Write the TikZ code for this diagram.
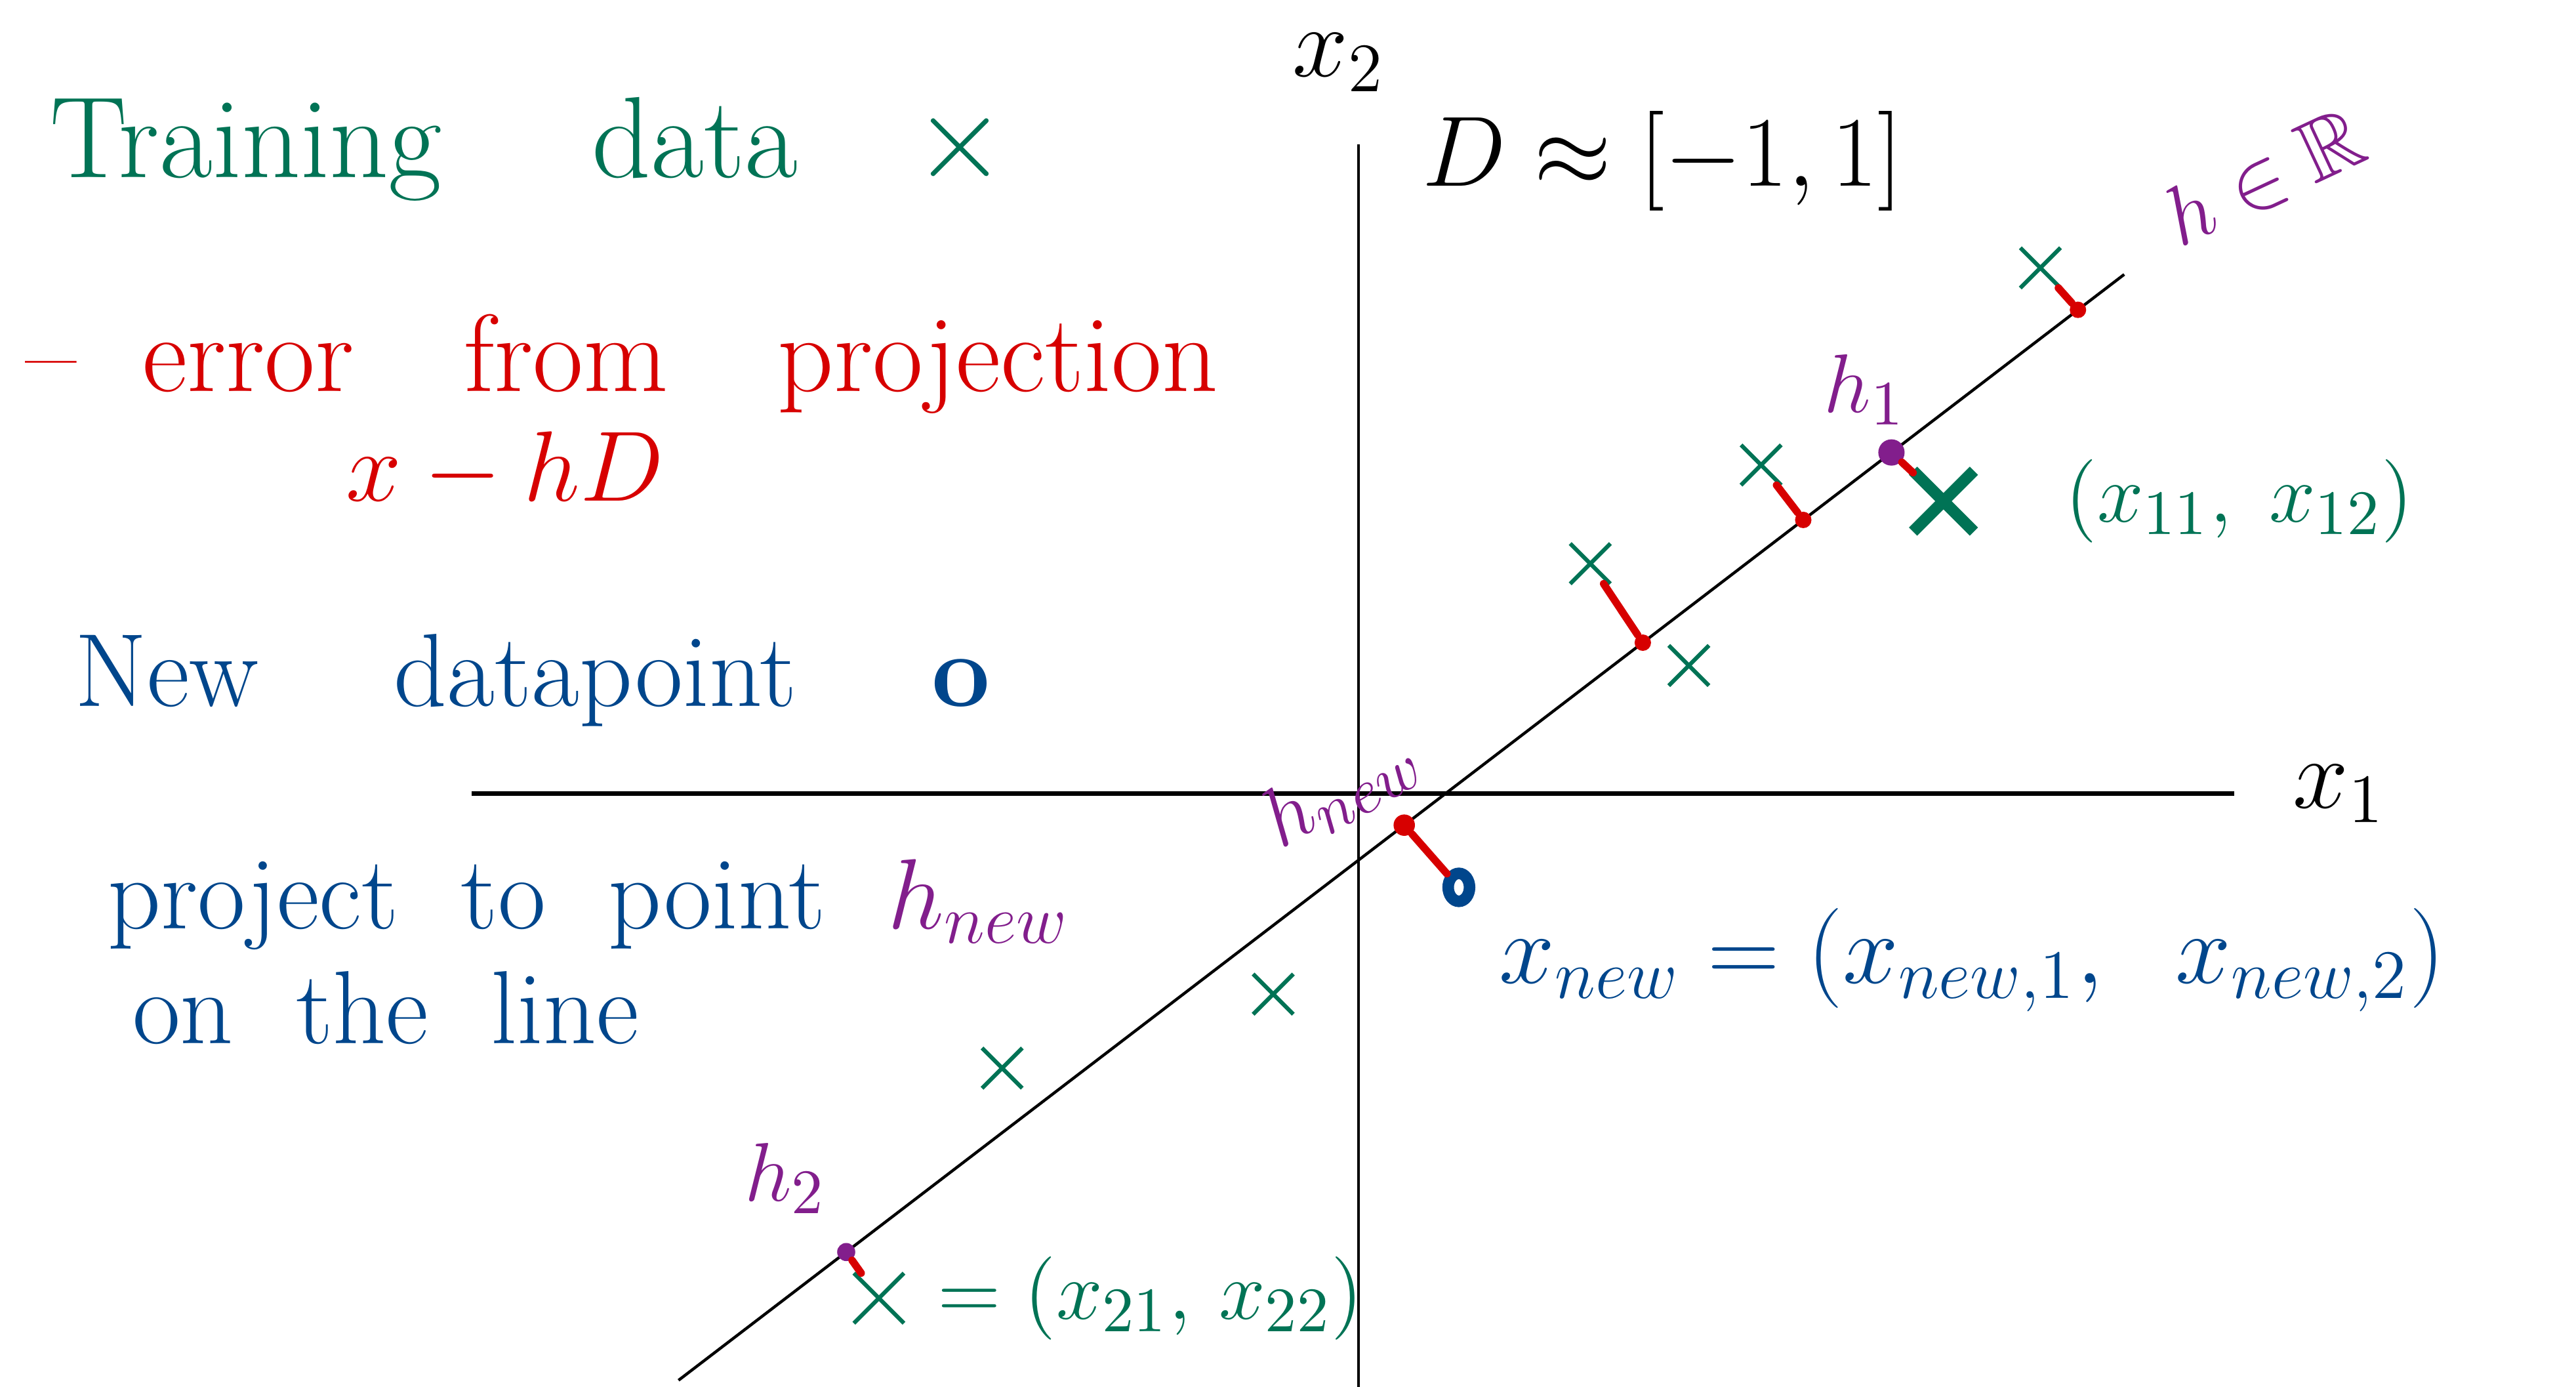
\documentclass[tikz,border=0pt]{standalone}
\usepackage{fontspec}
\usepackage{amsmath, amssymb}
\usetikzlibrary{shapes.geometric, shapes.misc, positioning, calc}
\definecolor{datagreen}{RGB}{0, 115, 85}
\definecolor{errred}{RGB}{215, 0, 0}
\definecolor{newblue}{RGB}{0, 70, 140}
\definecolor{hpurple}{RGB}{130, 30, 140}

\begin{document}
\begin{tikzpicture}[x=0.01cm, y=-0.01cm,
  txt/.style={font=\fontsize{18}{22}\selectfont, inner sep=0pt},
  small/.style={font=\fontsize{15}{18}\selectfont, inner sep=0pt},
  cross/.style={cross out, draw=datagreen, line width=0.7pt, minimum size=0.22cm, inner sep=0pt},
  errdot/.style={circle, fill=errred, inner sep=0pt, minimum size=0.1cm},
  hdot/.style={circle, fill=hpurple, inner sep=0pt, minimum size=0.16cm},
  newpt/.style={ellipse, draw=newblue, line width=2pt, inner sep=0pt, minimum width=0.13cm, minimum height=0.17cm},
  errseg/.style={errred, line width=1.3pt, line cap=round}]

  \useasboundingbox (0,0) rectangle (1568,844);

  % axes and the line
  \coordinate (xl) at (287,483);
  \coordinate (xr) at (1360,483);
  \coordinate (yt) at (827,88);
  \coordinate (yb) at (827,844);
  \coordinate (la) at (413,840);
  \coordinate (lb) at (1293,167);
  \draw[line width=0.8pt] (xl) -- (xr);
  \draw[line width=0.5pt] (yt) -- (yb);
  \draw[line width=0.5pt] (la) -- (lb);
  \node[txt, right=0.35cm of xr] (x1) {$x_1$};
  \node[txt] (x2) at (815,38) {$x_2$};
  \node[txt, font=\fontsize{19}{23}\selectfont] (dom) at (1012,98) {$D \approx [-1,1]$};
  \node[small, text=hpurple, rotate=25] (hr) at (1378,108) {$h \in \mathbb{R}$};

  % projections on the line
  \node[errdot] (p1) at ($(la)!0.968!(lb)$) {};
  \node[hdot] (h1) at ($(la)!0.839!(lb)$) {};
  \node[errdot] (p2) at ($(la)!0.778!(lb)$) {};
  \node[errdot] (p3) at ($(la)!0.667!(lb)$) {};
  \node[errdot, minimum size=0.13cm] (hn) at ($(la)!0.502!(lb)$) {};
  \node[hdot, minimum size=0.11cm] (h2) at ($(la)!0.116!(lb)$) {};

  % training data
  \node[cross] (c1) at (1242,163) {};
  \node[cross] (c2) at (1072,283) {};
  \node[cross] (c3) at (968,343) {};
  \node[cross] (c4) at (1028,405) {};
  \node[cross, line width=2pt, minimum size=0.3cm] (c11) at (1183,305) {};
  \node[cross] (c5) at (775,605) {};
  \node[cross] (c6) at (610,650) {};
  \node[cross, minimum size=0.28cm] (c21) at (535,790) {};
  \node[newpt] (xn) at (888,540) {};

  \foreach \p/\c in {p1/c1, p2/c2, p3/c3, h1/c11, h2/c21, hn/xn}
    \draw[errseg] (\p) -- (\c);

  % labels
  \node[small, text=hpurple] (h1l) at (1135,237) {$h_1$};
  \node[small, text=hpurple] (h2l) at (478,717) {$h_2$};
  \node[small, text=hpurple, rotate=30] (hnl) at (816,480) {$h_{new}$};
  \node[small, text=datagreen, right=0.55cm of c11] (x11) {$(x_{11},\; x_{12})$};
  \node[small, text=datagreen, right=0.2cm of c21] (x21) {$=(x_{21},\, x_{22})$};
  \node[txt, text=newblue, anchor=north west] (xnl) at (912,552) {$x_{new} = (x_{new,1},\;\; x_{new,2})$};

  % notes on the left
  \node[txt, font=\fontsize{20}{24}\selectfont, text=datagreen, anchor=base west] (train) at (30,108) {Training\quad\ data\quad $\times$};
  \node[txt, font=\fontsize{19}{23}\selectfont, text=errred, anchor=base west] (err) at (15,238) {-- \ error\quad from\quad projection};
  \node[txt, text=errred, anchor=base west] (errf) at (210,305) {$x - hD$};
  \node[txt, text=newblue, anchor=base west] (newd) at (45,430) {New\quad\ datapoint\quad\ \textbf{o}};
  \node[txt, text=newblue, anchor=base west] (proj) at (65,565) {project\ \ to\ \ point\ \ \textcolor{hpurple}{$h_{new}$}};
  \node[txt, text=newblue, anchor=base west] (line) at (80,635) {on\ \ the\ \ line};
\end{tikzpicture}
\end{document}
